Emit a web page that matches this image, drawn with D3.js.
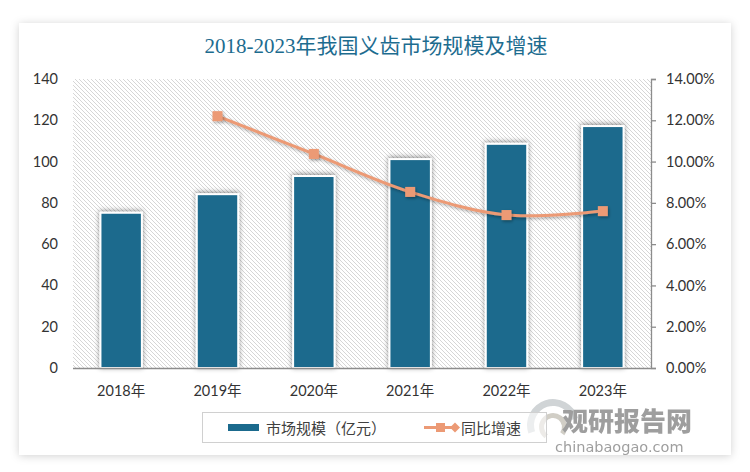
<!DOCTYPE html>
<html><head><meta charset="utf-8">
<script src="https://cdn.jsdelivr.net/npm/d3@7"></script>
<style>
html,body{margin:0;padding:0;background:#fff;}
svg{display:block;}
</style></head>
<body>
<script>
const categories = ["2018年","2019年","2020年","2021年","2022年","2023年"];
const marketSize = [75.2, 84.2, 93.0, 101.2, 108.6, 117.2];
const growth = [null, 0.1220, 0.1037, 0.0853, 0.0741, 0.0760];
const leftTicks = [0,20,40,60,80,100,120,140];
const rightTicks = [0,0.02,0.04,0.06,0.08,0.10,0.12,0.14];
const title = "2018-2023年我国义齿市场规模及增速";
const legendLabels = ["市场规模（亿元）","同比增速"];

const W=750,H=472;
const svg=d3.select("body").append("svg").attr("width",W).attr("height",H);
const defs=svg.append("defs");
const f1=defs.append("filter").attr("id","card").attr("x","-5%").attr("y","-5%").attr("width","110%").attr("height","110%");
f1.append("feDropShadow").attr("dx",0).attr("dy",1).attr("stdDeviation",4).attr("flood-color","#000").attr("flood-opacity",0.18);
const f2=defs.append("filter").attr("id","bsh").attr("x","-30%").attr("y","-10%").attr("width","160%").attr("height","120%");
f2.append("feDropShadow").attr("dx",0).attr("dy",-1).attr("stdDeviation",2.5).attr("flood-color","#000").attr("flood-opacity",0.45);
const f3=defs.append("filter").attr("id","msh").attr("x","-50%").attr("y","-50%").attr("width","200%").attr("height","200%");
f3.append("feDropShadow").attr("dx",1).attr("dy",1.5).attr("stdDeviation",1.5).attr("flood-color","#000").attr("flood-opacity",0.35);
const pat=defs.append("pattern").attr("id","hatch").attr("patternUnits","userSpaceOnUse").attr("width",4).attr("height",4);
pat.append("rect").attr("width",4).attr("height",4).attr("fill","#fff");
pat.append("path").attr("d","M-1,-1 L5,5 M-1,3 L1,5 M3,-1 L5,1").attr("stroke","#d6d6d6").attr("stroke-width",1);

// card
svg.append("rect").attr("x",19).attr("y",23).attr("width",712).attr("height",432).attr("fill","#fff").attr("filter","url(#card)");

const x0=73,x1=651,yTop=79,yBot=368;
const x=d3.scaleBand().domain(categories).range([x0,x1]).paddingInner(0.57).paddingOuter(0.285);
const y=d3.scaleLinear().domain([0,140]).range([yBot,yTop]);
const y2=d3.scaleLinear().domain([0,0.14]).range([yBot,yTop]);

svg.append("rect").attr("x",x0).attr("y",yTop).attr("width",x1-x0).attr("height",yBot-yTop).attr("fill","url(#hatch)");

// title
svg.append("text").attr("x",376).attr("y",53).attr("text-anchor","middle")
 .attr("font-family","'Liberation Serif','Noto Sans CJK SC',serif").attr("font-size",21)
 .attr("fill","#1d6c8f").text(title);

const lf="Lato,'Noto Sans CJK SC',sans-serif";
// left axis labels
svg.append("g").selectAll("text").data(leftTicks).join("text")
 .attr("x",58).attr("y",d=>y(d)+5).attr("text-anchor","end")
 .attr("font-family",lf).attr("font-size",14.5).attr("fill","#333").text(d=>d);

// bars
svg.append("g").selectAll("rect").data(marketSize).join("rect")
 .attr("x",(d,i)=>x(categories[i])).attr("width",x.bandwidth())
 .attr("y",d=>y(d)).attr("height",d=>yBot-y(d))
 .attr("fill","#1b6a8d").attr("stroke","#fff").attr("stroke-width",2).attr("filter","url(#bsh)");

// x axis
svg.append("line").attr("x1",x0).attr("x2",x1).attr("y1",yBot+0.5).attr("y2",yBot+0.5).attr("stroke","#8c8c8c").attr("stroke-width",1.3);
svg.append("g").selectAll("text").data(categories).join("text")
 .attr("x",d=>x(d)+x.bandwidth()/2).attr("y",396).attr("text-anchor","middle")
 .attr("font-family",lf).attr("font-size",14.5).attr("fill","#333").text(d=>d);

// right axis
const ra=svg.append("g").attr("transform",`translate(${x1},0)`)
 .call(d3.axisRight(y2).tickValues(rightTicks).tickSize(5).tickFormat(d=>(d*100).toFixed(2)+"%"));
ra.select(".domain").attr("stroke","#8c8c8c").attr("stroke-width",1.3);
ra.selectAll(".tick line").attr("stroke","#8c8c8c").attr("stroke-width",1.3);
ra.selectAll(".tick text").attr("x",15).attr("font-family",lf).attr("font-size",14.5).attr("fill","#333");

// line
const pts=growth.map((v,i)=>v==null?null:[x(categories[i])+x.bandwidth()/2,y2(v)]).filter(p=>p);
svg.append("path").attr("d",d3.line().curve(d3.curveCatmullRom.alpha(0.5))(pts))
 .attr("fill","none").attr("stroke","#ec9a75").attr("stroke-width",3).attr("filter","url(#msh)");
svg.append("g").selectAll("rect").data(pts).join("rect")
 .attr("x",p=>p[0]-5).attr("y",p=>p[1]-5).attr("width",10).attr("height",10)
 .attr("fill","#ec9a75").attr("filter","url(#msh)");

// watermark
const wm=svg.append("g").attr("opacity",0.85);
wm.append("path").attr("d",d3.arc()({innerRadius:19,outerRadius:26,startAngle:-1.9,endAngle:1.3})).attr("transform","translate(553,425)").attr("fill","#c8cdd0");
wm.append("path").attr("d",d3.arc()({innerRadius:9,outerRadius:14,startAngle:-2.5,endAngle:2.2})).attr("transform","translate(553,427)").attr("fill","#c9c6bd");
wm.append("text").attr("x",562).attr("y",431).attr("font-family","'Noto Sans CJK SC',sans-serif").attr("font-weight",900).attr("font-size",26).attr("fill","#8e8e8e").text("观研报告网");
wm.append("text").attr("x",555).attr("y",452).attr("font-family","'DejaVu Sans',sans-serif").attr("font-size",14.5).attr("fill","#8e8e8e").text("chinabaogao.com");

// legend
const lg=svg.append("g");
lg.append("rect").attr("x",202.5).attr("y",412.5).attr("width",344).attr("height",30).attr("fill","#fff").attr("fill-opacity",0.6).attr("stroke","#d0d0d0");
lg.append("rect").attr("x",228).attr("y",424).attr("width",31).attr("height",7).attr("fill","#1b6a8d");
lg.append("text").attr("x",266).attr("y",434).attr("font-family","'Noto Sans CJK SC',sans-serif").attr("font-size",15).attr("fill","#404040").text(legendLabels[0]);
lg.append("line").attr("x1",424).attr("x2",456).attr("y1",427.5).attr("y2",427.5).attr("stroke","#ec9a75").attr("stroke-width",3);
lg.append("rect").attr("x",436).attr("y",423).attr("width",9).attr("height",9).attr("fill","#ec9a75");
lg.append("path").attr("d","M455,422.5 L460,427.5 L455,432.5 L450,427.5Z").attr("fill","#ec9a75");
lg.append("text").attr("x",461).attr("y",434).attr("font-family","'Noto Sans CJK SC',sans-serif").attr("font-size",15).attr("fill","#404040").text(legendLabels[1]);
</script>
</body></html>
